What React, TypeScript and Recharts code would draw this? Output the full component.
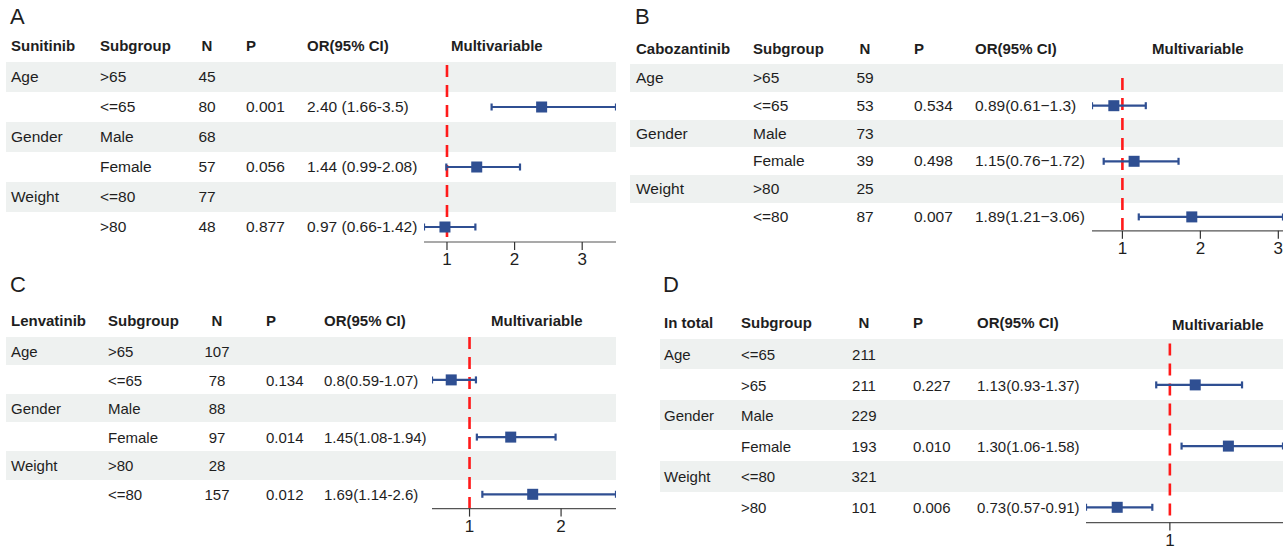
import React from "react";
import { ScatterChart, Scatter, XAxis, YAxis, ErrorBar, ReferenceLine } from "recharts";

// shared row labels
const groupLabels = ["Age", "", "Gender", "", "Weight", ""];

// A - Sunitinib
const subA = [">65", "<=65", "Male", "Female", "<=80", ">80"];
const nA = [45, 80, 68, 57, 77, 48];
const pA = ["", "0.001", "", "0.056", "", "0.877"];
const ciTextA = ["", "2.40 (1.66-3.5)", "", "1.44 (0.99-2.08)", "", "0.97 (0.66-1.42)"];
const orA = [null, 2.4, null, 1.44, null, 0.97];
const loA = [null, 1.66, null, 0.99, null, 0.66];
const hiA = [null, 3.5, null, 2.08, null, 1.42];
const ticksA = [1, 2, 3];

// B - Cabozantinib
const subB = [">65", "<=65", "Male", "Female", ">80", "<=80"];
const nB = [59, 53, 73, 39, 25, 87];
const pB = ["", "0.534", "", "0.498", "", "0.007"];
const ciTextB = ["", "0.89(0.61\u22121.3)", "", "1.15(0.76\u22121.72)", "", "1.89(1.21\u22123.06)"];
const orB = [null, 0.89, null, 1.15, null, 1.89];
const loB = [null, 0.61, null, 0.76, null, 1.21];
const hiB = [null, 1.3, null, 1.72, null, 3.06];
const ticksB = [1, 2, 3];

// C - Lenvatinib
const subC = [">65", "<=65", "Male", "Female", ">80", "<=80"];
const nC = [107, 78, 88, 97, 28, 157];
const pC = ["", "0.134", "", "0.014", "", "0.012"];
const ciTextC = ["", "0.8(0.59-1.07)", "", "1.45(1.08-1.94)", "", "1.69(1.14-2.6)"];
const orC = [null, 0.8, null, 1.45, null, 1.69];
const loC = [null, 0.59, null, 1.08, null, 1.14];
const hiC = [null, 1.07, null, 1.94, null, 2.6];
const ticksC = [1, 2];

// D - In total
const subD = ["<=65", ">65", "Male", "Female", "<=80", ">80"];
const nD = [211, 211, 229, 193, 321, 101];
const pD = ["", "0.227", "", "0.010", "", "0.006"];
const ciTextD = ["", "1.13(0.93-1.37)", "", "1.30(1.06-1.58)", "", "0.73(0.57-0.91)"];
const orD = [null, 1.13, null, 1.3, null, 0.73];
const loD = [null, 0.93, null, 1.06, null, 0.57];
const hiD = [null, 1.37, null, 1.58, null, 0.91];
const ticksD = [1];

const FONT = '"Liberation Sans", Arial, Helvetica, sans-serif';
const TEXT = "#1e1e1e";
const BAND = "#eef1f0";
const BLUE = "#2f4f92";
const RED = "#ff1a1a";

type Layout = {
  letterY: number; letter: string; letterX: number;
  headY: number; multY: number;
  drug: string;
  cols: { drug: number; sub: number; n: number; p: number; or: number; multi: number };
  rowY0: number; rowH: number;
  bandX0: number; bandX1: number;
  plotX: number; plotW: number;
  fs: number; lineTop: number;
};

type PanelData = {
  sub: string[]; n: number[]; p: string[]; ciText: string[];
  or: (number | null)[]; lo: (number | null)[]; hi: (number | null)[]; ticks: number[];
};

const Square = (props: any) => {
  const { cx, cy } = props;
  if (cx == null || cy == null) return null;
  return <rect x={cx - 5.5} y={cy - 5.5} width={11} height={11} fill={BLUE} />;
};

function Txt({ x, y, children, bold, fs, center, light }: any) {
  return (
    <span
      style={{
        position: "absolute",
        left: x,
        top: y,
        transform: center ? "translate(-50%, -50%)" : "translateY(-50%)",
        fontSize: fs,
        fontWeight: bold ? 700 : light ? 300 : 400,
        lineHeight: 1,
        whiteSpace: "nowrap",
        color: TEXT,
      }}
    >
      {children}
    </span>
  );
}

function Panel({ L, D }: { L: Layout; D: PanelData }) {
  const points = D.or
    .map((v, i) =>
      v == null
        ? null
        : { x: v, y: i + 0.5, err: [v - (D.lo[i] as number), (D.hi[i] as number) - v] }
    )
    .filter(Boolean) as any[];
  const los = D.lo.filter((v) => v != null) as number[];
  const his = D.hi.filter((v) => v != null) as number[];
  const domain = [Math.min(...los), Math.max(...his)];
  const plotTop = L.rowY0 - L.rowH / 2;
  const plotH = L.rowH * 6;

  return (
    <>
      <Txt x={L.letterX} y={L.letterY} fs={22} light>{L.letter}</Txt>
      <Txt x={L.cols.drug} y={L.headY} bold fs={15}>{L.drug}</Txt>
      <Txt x={L.cols.sub} y={L.headY} bold fs={15}>Subgroup</Txt>
      <Txt x={L.cols.n} y={L.headY} bold fs={15} center>N</Txt>
      <Txt x={L.cols.p} y={L.headY} bold fs={15}>P</Txt>
      <Txt x={L.cols.or} y={L.headY} bold fs={15}>OR(95% CI)</Txt>
      <Txt x={L.cols.multi} y={L.multY} bold fs={15}>Multivariable</Txt>
      {[0, 2, 4].map((i) => (
        <div
          key={"b" + i}
          style={{
            position: "absolute",
            left: L.bandX0,
            top: plotTop + i * L.rowH,
            width: L.bandX1 - L.bandX0,
            height: L.rowH,
            background: BAND,
          }}
        />
      ))}
      {D.sub.map((s, i) => {
        const y = L.rowY0 + i * L.rowH;
        return (
          <React.Fragment key={"r" + i}>
            <Txt x={L.cols.drug} y={y} fs={L.fs}>{groupLabels[i]}</Txt>
            <Txt x={L.cols.sub} y={y} fs={L.fs}>{s}</Txt>
            <Txt x={L.cols.n} y={y} fs={L.fs} center>{D.n[i]}</Txt>
            <Txt x={L.cols.p} y={y} fs={L.fs}>{D.p[i]}</Txt>
            <Txt x={L.cols.or} y={y} fs={L.fs}>{D.ciText[i]}</Txt>
          </React.Fragment>
        );
      })}
      <div style={{ position: "absolute", left: L.plotX, top: plotTop }}>
        <ScatterChart
          width={L.plotW}
          height={plotH + 38}
          margin={{ top: 0, right: 0, bottom: 0, left: 0 }}
          style={{ overflow: "visible" }}
        >
          <XAxis
            type="number"
            dataKey="x"
            domain={domain}
            ticks={D.ticks}
            allowDataOverflow
            height={38}
            tickSize={8}
            tickMargin={3}
            axisLine={{ stroke: "#555", strokeWidth: 1.2 }}
            tickLine={{ stroke: "#333", strokeWidth: 1.2 }}
            tick={{ fill: TEXT, fontSize: 17, fontFamily: FONT }}
          />
          <YAxis type="number" dataKey="y" domain={[0, 6]} reversed hide width={0} />
          <ReferenceLine
            segment={[{ x: 1, y: L.lineTop }, { x: 1, y: 6 }]}
            stroke={RED}
            strokeWidth={2.6}
            strokeDasharray="12 8"
            ifOverflow="visible"
          />
          <Scatter data={points} shape={Square} isAnimationActive={false}>
            <ErrorBar dataKey="err" direction="x" width={3.5} stroke={BLUE} strokeWidth={2.2} />
          </Scatter>
        </ScatterChart>
      </div>
    </>
  );
}

const layoutA: Layout = {
  letter: "A", letterX: 10, letterY: 17, headY: 45, multY: 45, drug: "Sunitinib",
  cols: { drug: 11, sub: 100, n: 207, p: 246, or: 307, multi: 451 },
  rowY0: 77, rowH: 30, bandX0: 6, bandX1: 616, plotX: 424, plotW: 192, fs: 15.5, lineTop: 0.1,
};
const layoutB: Layout = {
  letter: "B", letterX: 635, letterY: 17, headY: 48, multY: 48, drug: "Cabozantinib",
  cols: { drug: 636, sub: 753, n: 865, p: 914, or: 975, multi: 1152 },
  rowY0: 78, rowH: 27.8, bandX0: 630, bandX1: 1283, plotX: 1092, plotW: 191, fs: 15.5, lineTop: 0.5,
};
const layoutC: Layout = {
  letter: "C", letterX: 10, letterY: 285, headY: 320, multY: 320, drug: "Lenvatinib",
  cols: { drug: 11, sub: 108, n: 217, p: 266, or: 324, multi: 491 },
  rowY0: 351, rowH: 28.6, bandX0: 6, bandX1: 616, plotX: 432, plotW: 184, fs: 15, lineTop: 0,
};
const layoutD: Layout = {
  letter: "D", letterX: 663, letterY: 285, headY: 322, multY: 324, drug: "In total",
  cols: { drug: 664, sub: 741, n: 864, p: 913, or: 977, multi: 1172 },
  rowY0: 354, rowH: 30.6, bandX0: 660, bandX1: 1283, plotX: 1086, plotW: 197, fs: 15, lineTop: 0.15,
};

export default function App() {
  return (
    <div
      style={{
        position: "absolute",
        left: 0,
        top: 0,
        width: 1288,
        height: 548,
        background: "#fff",
        fontFamily: FONT,
        overflow: "hidden",
      }}
    >
      <Panel L={layoutA} D={{ sub: subA, n: nA, p: pA, ciText: ciTextA, or: orA, lo: loA, hi: hiA, ticks: ticksA }} />
      <Panel L={layoutB} D={{ sub: subB, n: nB, p: pB, ciText: ciTextB, or: orB, lo: loB, hi: hiB, ticks: ticksB }} />
      <Panel L={layoutC} D={{ sub: subC, n: nC, p: pC, ciText: ciTextC, or: orC, lo: loC, hi: hiC, ticks: ticksC }} />
      <Panel L={layoutD} D={{ sub: subD, n: nD, p: pD, ciText: ciTextD, or: orD, lo: loD, hi: hiD, ticks: ticksD }} />
    </div>
  );
}
